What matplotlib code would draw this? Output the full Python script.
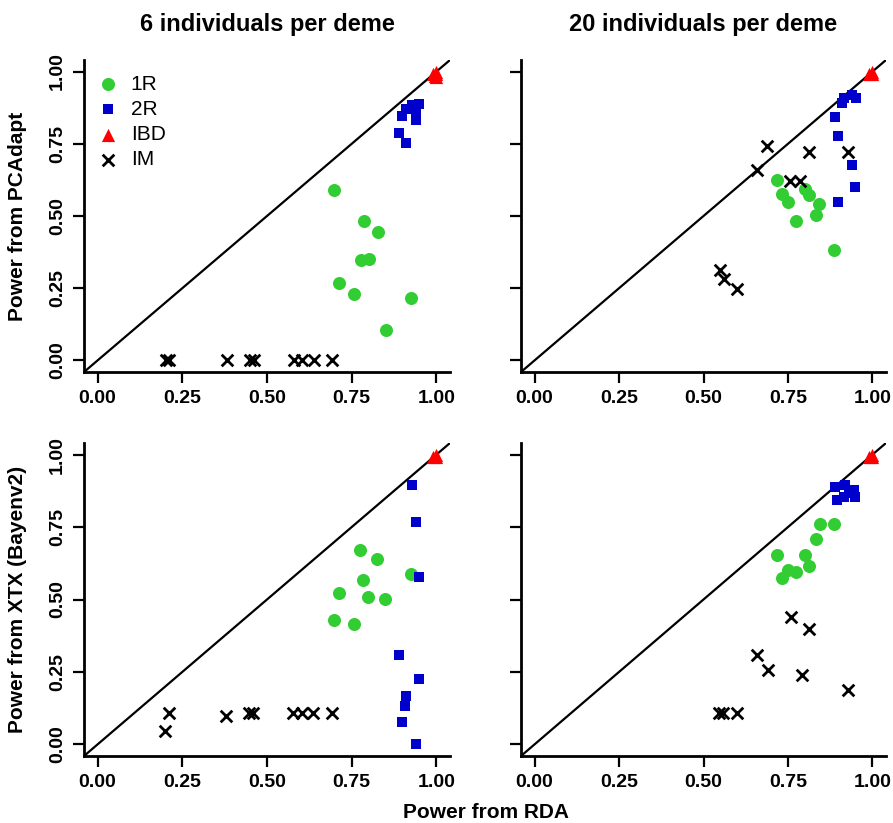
import matplotlib
matplotlib.use("Agg")
import matplotlib.pyplot as plt

plt.rcParams['font.family'] = ['Liberation Sans', 'DejaVu Sans']

# --- data ---
# 6 individuals per deme, PCAdapt vs RDA
tl_1r_x = [0.699, 0.786, 0.827, 0.776, 0.801, 0.713, 0.758, 0.925, 0.851]
tl_1r_y = [0.590, 0.482, 0.445, 0.348, 0.351, 0.267, 0.229, 0.215, 0.106]
tl_2r_x = [0.948, 0.928, 0.909, 0.899, 0.941, 0.940, 0.890, 0.909]
tl_2r_y = [0.889, 0.883, 0.871, 0.845, 0.831, 0.860, 0.787, 0.753]
tl_ibd_x = [0.99, 1.00, 1.00, 0.995, 1.00]
tl_ibd_y = [0.99, 1.00, 0.98, 0.985, 0.99]
tl_im_x = [0.201, 0.211, 0.381, 0.451, 0.461, 0.579, 0.604, 0.638, 0.692]
tl_im_y = [0.0, 0.0, 0.0, 0.0, 0.0, 0.0, 0.0, 0.0, 0.0]

# 20 individuals per deme, PCAdapt vs RDA
tr_1r_x = [0.718, 0.733, 0.749, 0.773, 0.801, 0.812, 0.843, 0.834, 0.886]
tr_1r_y = [0.625, 0.577, 0.548, 0.484, 0.595, 0.574, 0.543, 0.505, 0.381]
tr_2r_x = [0.915, 0.939, 0.950, 0.910, 0.889, 0.898, 0.939, 0.949, 0.898]
tr_2r_y = [0.910, 0.919, 0.908, 0.891, 0.841, 0.778, 0.678, 0.599, 0.550]
tr_ibd_x = [0.99, 1.00, 1.00]
tr_ibd_y = [0.99, 1.00, 0.99]
tr_im_x = [0.688, 0.659, 0.757, 0.787, 0.811, 0.929, 0.548, 0.561, 0.600]
tr_im_y = [0.741, 0.660, 0.622, 0.622, 0.720, 0.720, 0.312, 0.282, 0.248]

# 6 individuals per deme, XTX vs RDA
bl_1r_x = [0.774, 0.825, 0.924, 0.784, 0.711, 0.798, 0.849, 0.699, 0.757]
bl_1r_y = [0.672, 0.639, 0.589, 0.569, 0.524, 0.508, 0.503, 0.428, 0.415]
bl_2r_x = [0.927, 0.939, 0.948, 0.889, 0.948, 0.910, 0.907, 0.897, 0.939]
bl_2r_y = [0.894, 0.766, 0.577, 0.307, 0.224, 0.166, 0.132, 0.079, 0.0]
bl_ibd_x = [0.99, 1.00, 1.00]
bl_ibd_y = [0.99, 1.00, 0.99]
bl_im_x = [0.211, 0.200, 0.379, 0.448, 0.460, 0.578, 0.602, 0.637, 0.691]
bl_im_y = [0.108, 0.046, 0.098, 0.108, 0.108, 0.108, 0.108, 0.108, 0.108]

# 20 individuals per deme, XTX vs RDA
br_1r_x = [0.718, 0.733, 0.749, 0.773, 0.801, 0.812, 0.834, 0.844, 0.886]
br_1r_y = [0.655, 0.574, 0.601, 0.595, 0.655, 0.614, 0.710, 0.759, 0.760]
br_2r_x = [0.890, 0.919, 0.895, 0.915, 0.944, 0.949, 0.930]
br_2r_y = [0.888, 0.895, 0.845, 0.855, 0.877, 0.852, 0.866]
br_ibd_x = [0.99, 1.00, 1.00]
br_ibd_y = [0.99, 1.00, 0.99]
br_im_x = [0.759, 0.811, 0.659, 0.690, 0.790, 0.929, 0.546, 0.559, 0.600]
br_im_y = [0.439, 0.399, 0.307, 0.258, 0.238, 0.189, 0.108, 0.108, 0.108]

ticks = [0.0, 0.25, 0.5, 0.75, 1.0]
tick_labels = ["0.00", "0.25", "0.50", "0.75", "1.00"]

green = "#32cd32"
blue = "#0000cd"
red = "#ff0000"

fig = plt.figure(figsize=(8.93, 8.23), dpi=100)

W, H = 893, 823
def box(x0, y0, x1, y1):
    return [x0 / W, 1 - y1 / H, (x1 - x0) / W, (y1 - y0) / H]

ax_tl = fig.add_axes(box(84, 60, 450, 372))
ax_tr = fig.add_axes(box(521, 60, 886, 372))
ax_bl = fig.add_axes(box(84, 443, 450, 756))
ax_br = fig.add_axes(box(521, 443, 886, 756))

panels = [
    (ax_tl, tl_1r_x, tl_1r_y, tl_2r_x, tl_2r_y, tl_ibd_x, tl_ibd_y, tl_im_x, tl_im_y, True),
    (ax_tr, tr_1r_x, tr_1r_y, tr_2r_x, tr_2r_y, tr_ibd_x, tr_ibd_y, tr_im_x, tr_im_y, False),
    (ax_bl, bl_1r_x, bl_1r_y, bl_2r_x, bl_2r_y, bl_ibd_x, bl_ibd_y, bl_im_x, bl_im_y, True),
    (ax_br, br_1r_x, br_1r_y, br_2r_x, br_2r_y, br_ibd_x, br_ibd_y, br_im_x, br_im_y, False),
]

for ax, gx, gy, bx, by, rx, ry, kx, ky, ylab in panels:
    ax.set_xlim(-0.04, 1.04)
    ax.set_ylim(-0.04, 1.04)
    ax.axline((0, 0), slope=1, color="black", lw=1.6, zorder=1)
    ax.scatter(gx, gy, s=88, marker="o", color=green, linewidths=0, zorder=3, label="1R")
    ax.scatter(bx, by, s=55, marker="s", color=blue, linewidths=0, zorder=3, label="2R")
    ax.scatter(rx, ry, s=90, marker="^", color=red, linewidths=0, zorder=3, label="IBD")
    ax.scatter(kx, ky, s=70, marker="x", color="black", linewidths=2.0, zorder=3, label="IM")
    for s in ["top", "right"]:
        ax.spines[s].set_visible(False)
    for s in ["left", "bottom"]:
        ax.spines[s].set_linewidth(2.0)
    ax.set_xticks(ticks)
    ax.set_xticklabels(tick_labels, fontweight="bold", fontsize=14)
    ax.set_yticks(ticks)
    if ylab:
        ax.set_yticklabels(tick_labels, fontweight="bold", fontsize=14,
                           rotation=90, va="center")
    else:
        ax.set_yticklabels([])
    ax.tick_params(direction="out", length=8, width=1.6, pad=5)

ax_tl.legend(loc="upper left", bbox_to_anchor=(-0.02, 1.0), frameon=False,
             fontsize=15, handletextpad=0.3, labelspacing=0.3,
             borderaxespad=0.3, handlelength=1.6)

ax_tl.set_title("6 individuals per deme", fontsize=17, fontweight="bold", pad=21)
ax_tr.set_title("20 individuals per deme", fontsize=17, fontweight="bold", pad=21)
ax_tl.set_ylabel("Power from PCAdapt", fontsize=15, fontweight="bold")
ax_bl.set_ylabel("Power from XTX (Bayenv2)", fontsize=15, fontweight="bold")
ax_tl.yaxis.set_label_coords(-0.155, 0.5)
ax_bl.yaxis.set_label_coords(-0.155, 0.5)
fig.text(486 / W, 1 - 813 / H, "Power from RDA", fontsize=15, fontweight="bold",
         ha="center", va="center")

fig.savefig("out.png", dpi=100)
